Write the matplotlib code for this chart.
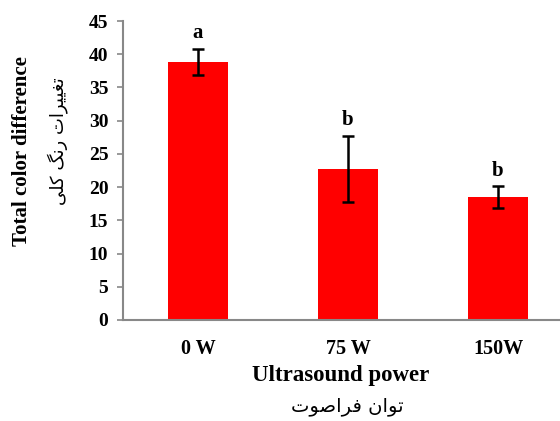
import numpy as np
import matplotlib as mpl
mpl.use('Agg')
import matplotlib.pyplot as plt

# data
categories = ['0 W', '75 W', '150W']
values = [38.8, 22.7, 18.5]
errors = [2.0, 5.0, 1.6]
letters = ['a', 'b', 'b']
y_ticks = [0, 5, 10, 15, 20, 25, 30, 35, 40, 45]

x_title = 'Ultrasound power'
x_title_fa = 'توان فراصوت'
y_title = 'Total color difference'
y_title_fa = 'تغییرات رنگ کلی'

# matplotlib has no arabic shaping, so pick presentation forms by hand
# (isolated, final, initial, medial); two-form letters only join to the right
FORMS = {
    'ت': (0xFE95, 0xFE96, 0xFE97, 0xFE98),
    'غ': (0xFECD, 0xFECE, 0xFECF, 0xFED0),
    'ی': (0xFBFC, 0xFBFD, 0xFBFE, 0xFBFF),
    'ن': (0xFEE5, 0xFEE6, 0xFEE7, 0xFEE8),
    'گ': (0xFB92, 0xFB93, 0xFB94, 0xFB95),
    'ک': (0xFB8E, 0xFB8F, 0xFB90, 0xFB91),
    'ل': (0xFEDD, 0xFEDE, 0xFEDF, 0xFEE0),
    'ف': (0xFED1, 0xFED2, 0xFED3, 0xFED4),
    'ص': (0xFEB9, 0xFEBA, 0xFEBB, 0xFEBC),
    'ر': (0xFEAD, 0xFEAE),
    'ا': (0xFE8D, 0xFE8E),
    'و': (0xFEED, 0xFEEE),
}


def shape(text):
    out = []
    for i, ch in enumerate(text):
        if ch not in FORMS:
            out.append(ch)
            continue
        prev = text[i - 1] if i > 0 else ''
        nxt = text[i + 1] if i + 1 < len(text) else ''
        joins_prev = prev in FORMS and len(FORMS[prev]) == 4
        joins_next = len(FORMS[ch]) == 4 and nxt in FORMS
        f = FORMS[ch]
        if joins_prev and joins_next:
            out.append(chr(f[3]))
        elif joins_prev:
            out.append(chr(f[1]))
        elif joins_next:
            out.append(chr(f[2]))
        else:
            out.append(chr(f[0]))
    return ''.join(out)[::-1]


serif = ['Liberation Serif', 'DejaVu Serif']
fa_font = ['DejaVu Sans']

fig = plt.figure(figsize=(5.6, 4.21), dpi=100)
ax = fig.add_axes([123 / 560, 101 / 421, 450 / 560, 299 / 421])

x = np.arange(len(categories))
ax.bar(x, values, width=0.4, color='#ff0000', zorder=2)
ax.errorbar(x, values, yerr=errors, fmt='none', ecolor='black',
            elinewidth=1.8, capsize=4, capthick=1.8, zorder=3)

for xi, v, e, lab in zip(x, values, errors, letters):
    ax.annotate(lab, (xi, v + e), xytext=(0, 4), textcoords='offset points',
                ha='center', va='bottom', fontsize=15, fontweight='bold',
                family=serif)

ax.set_xlim(-0.5, 2.5)
ax.set_ylim(0, 45)
ax.set_yticks(y_ticks)
ax.set_xticks(x)
ax.set_xticklabels(categories)
ax.tick_params(axis='x', length=0, pad=14)
ax.tick_params(axis='y', length=4.5, width=1.2, color='#888888', pad=6)
for lab in ax.get_xticklabels():
    lab.set_family(serif)
    lab.set_fontweight('bold')
    lab.set_fontsize(14.5)
for lab in ax.get_yticklabels():
    lab.set_family(serif)
    lab.set_fontweight('bold')
    lab.set_fontsize(14)

for side in ['top', 'right']:
    ax.spines[side].set_visible(False)
for side in ['left', 'bottom']:
    ax.spines[side].set_color('#888888')
    ax.spines[side].set_linewidth(1.5)

# axis titles, english line plus persian line
fig.text(341 / 560, 1 - 376 / 421, x_title, ha='center', va='center',
         fontsize=16.5, fontweight='bold', family=serif)
fig.text(347 / 560, 1 - 406 / 421, shape(x_title_fa), ha='center',
         va='center', fontsize=14, family=fa_font)
fig.text(22 / 560, 1 - 151 / 421, y_title, ha='center', va='center',
         rotation=90, fontsize=15, fontweight='bold', family=serif)
fig.text(58 / 560, 1 - 141 / 421, shape(y_title_fa), ha='center',
         va='center', rotation=90, fontsize=13, family=fa_font)

fig.savefig('out.png', dpi=100)
